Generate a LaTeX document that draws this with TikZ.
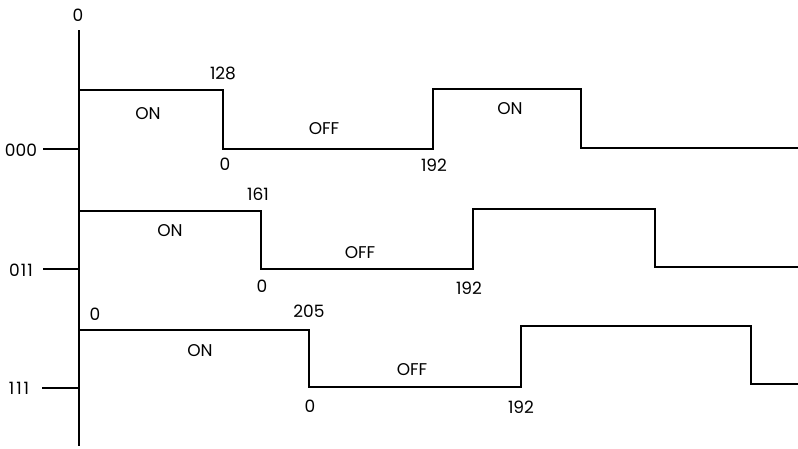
\documentclass[tikz,border=0pt]{standalone}
\usepackage{fontspec}
\setmainfont{Poppins}
\begin{document}
\begin{tikzpicture}[x=1pt,y=-1pt,
  wave/.style={line width=1.8pt,line join=miter},
  axisline/.style={line width=1.8pt},
  lbl/.style={font=\fontsize{17}{17}\selectfont,inner sep=0pt,anchor=center}]
\useasboundingbox (0,0) rectangle (798,448);
% axis
\coordinate (atop) at (79,30);
\coordinate (abot) at (79,446);
\draw[axisline] (atop) -- (abot);
\node[lbl] (zero) at (78,15) {0};
% row 000
\node[lbl] (l000) at (21,150) {000};
\coordinate (t000) at (43,149);
\coordinate (a000) at (79,149);
\draw[axisline] (t000) -- (a000);
\draw[wave] (79,90) -- (223,90) -- (223,149) -- (433,149) -- (433,89) -- (581,89) -- (581,148) -- (798,148);
\node[lbl] at (223,73) {128};
\node[lbl] at (148,114) {ON};
\node[lbl] at (225,164) {0};
\node[lbl] at (324,129) {OFF};
\node[lbl] at (434,165) {192};
\node[lbl] at (510,109) {ON};
% row 011
\node[lbl] (l011) at (21,270) {0\kern1pt1\kern1pt1};
\coordinate (t011) at (43,269);
\coordinate (a011) at (79,269);
\draw[axisline] (t011) -- (a011);
\draw[wave] (79,211) -- (261,211) -- (261,269) -- (473,269) -- (473,209) -- (655,209) -- (655,267) -- (798,267);
\node[lbl] at (258,194) {161};
\node[lbl] at (170,231) {ON};
\node[lbl] at (262,286) {0};
\node[lbl] at (360,253) {OFF};
\node[lbl] at (469,288) {192};
% row 111
\node[lbl] (l111) at (19,388) {1\kern2pt1\kern2pt1};
\coordinate (t111) at (42,388);
\coordinate (a111) at (79,388);
\draw[axisline] (t111) -- (a111);
\draw[wave] (79,330) -- (309,330) -- (309,387) -- (521,387) -- (521,326) -- (751,326) -- (751,384) -- (798,384);
\node[lbl] at (95,314) {0};
\node[lbl] at (309,311) {205};
\node[lbl] at (200,351) {ON};
\node[lbl] at (412,370) {OFF};
\node[lbl] at (310,406) {0};
\node[lbl] at (521,407) {192};
\end{tikzpicture}
\end{document}
